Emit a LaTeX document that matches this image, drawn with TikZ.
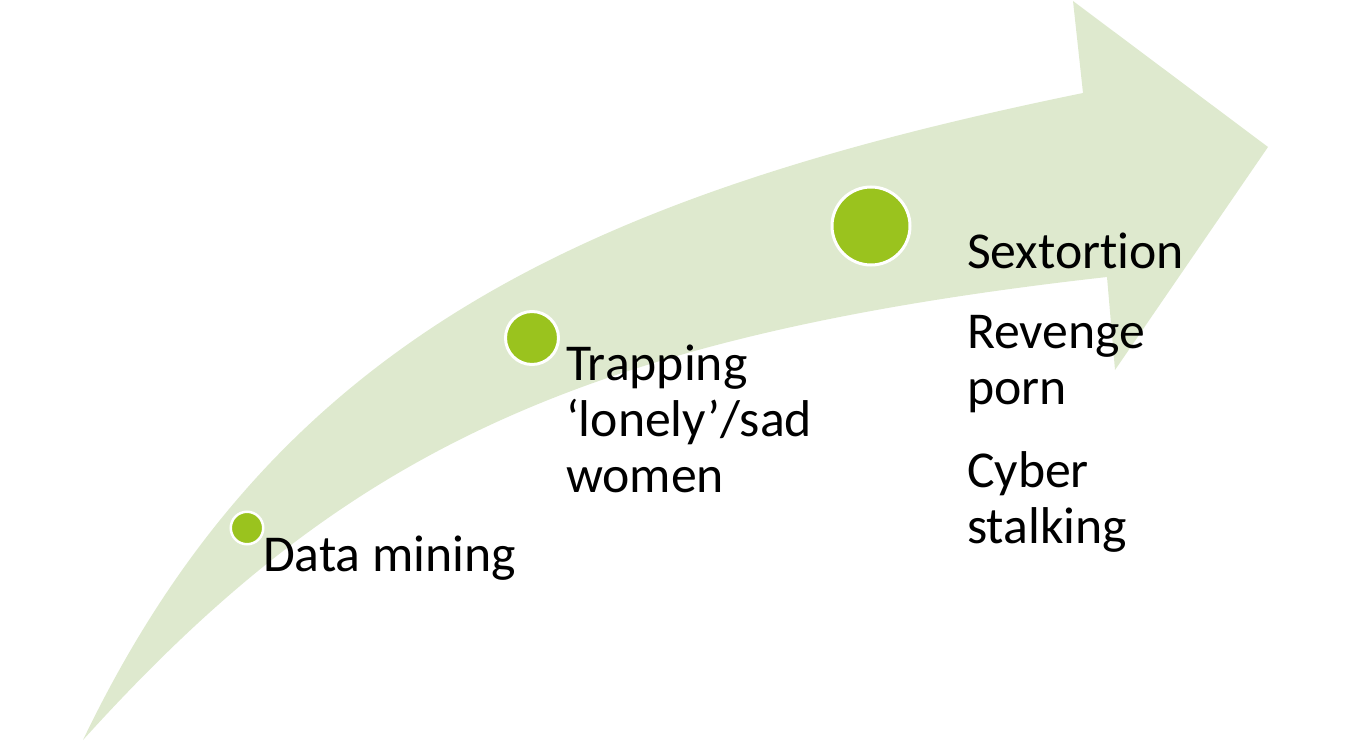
\documentclass[tikz,border=0pt]{standalone}
\usepackage{fontspec}
\setmainfont{Carlito}[Ligatures=NoCommon]
\definecolor{arrowfill}{HTML}{DEE9CE}
\definecolor{dotgreen}{HTML}{9AC31E}
\begin{document}
\begin{tikzpicture}[x=0.75pt,y=-0.75pt,
  dot/.style={circle,inner sep=0pt,fill=dotgreen,draw=white},
  label/.style={anchor=base west,inner sep=0pt,outer sep=0pt,font=\fontsize{38.8}{42}\selectfont},
]
\useasboundingbox (0,0) rectangle (1350,742);
% arrow body
\fill[arrowfill]
  (83,740) .. controls (275,340) and (585,195) .. (1083,93)
  -- (1073,1) -- (1268,147) -- (1115,370) -- (1107,277)
  .. controls (572,337) and (339,457) .. (83,740)
  -- cycle;
% dots
\node[dot,minimum size=24.375pt,line width=1.875pt] (c1) at (247,528) {};
\node[dot,minimum size=39.75pt,line width=2.25pt] (c2) at (532,338) {};
\node[dot,minimum size=58.5pt,line width=2.25pt] (c3) at (871,226) {};
% labels
\node[label] (t1) at (263,571) {Data mining};
\node[label] (t2) at (566,380) {\begin{tabular}[t]{@{}l@{}}Trapping\\‘lonely’/sad\\women\end{tabular}};
\node[label] (t3) at (967,268) {Sextortion};
\node[label] (t4) at (967,348) {\begin{tabular}[t]{@{}l@{}}Revenge\\porn\end{tabular}};
\node[label] (t5) at (967,487) {\begin{tabular}[t]{@{}l@{}}Cyber\\stalking\end{tabular}};
\end{tikzpicture}
\end{document}
